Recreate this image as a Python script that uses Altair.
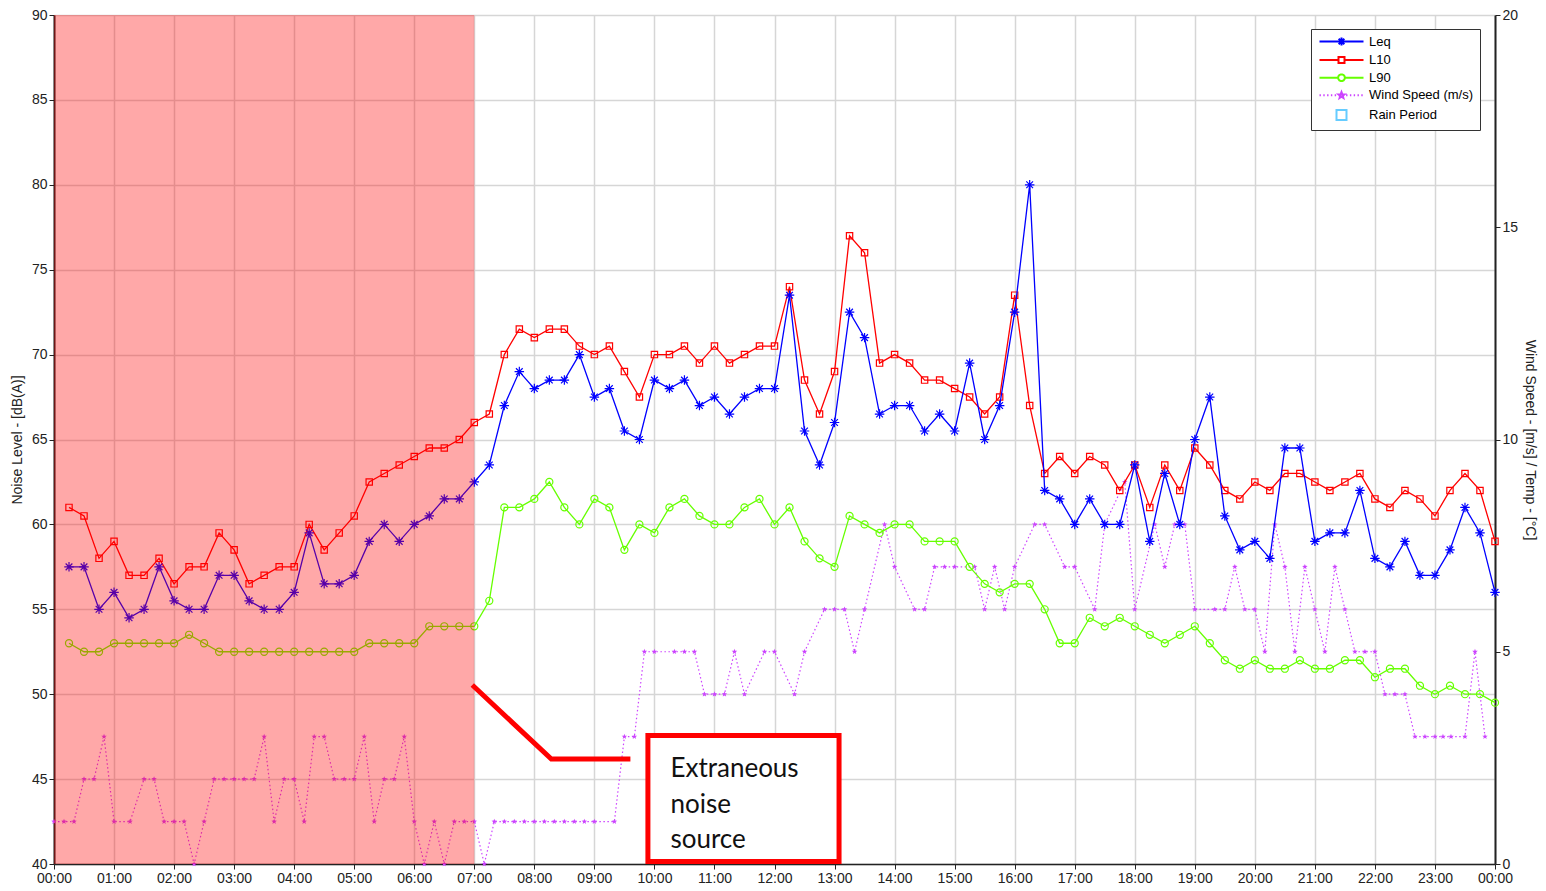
import math
import altair as alt
import pandas as pd

# ---------------- data ----------------
slot_minutes = list(range(15, 1441, 15))  # 15-minute slots 00:15 .. 24:00

leq = [57.5, 57.5, 55, 56, 54.5, 55, 57.5, 55.5, 55, 55, 57, 57, 55.5, 55, 55, 56,
       59.5, 56.5, 56.5, 57, 59, 60, 59, 60, 60.5, 61.5, 61.5, 62.5, 63.5, 67, 69, 68,
       68.5, 68.5, 70, 67.5, 68, 65.5, 65, 68.5, 68, 68.5, 67, 67.5, 66.5, 67.5, 68, 68,
       73.5, 65.5, 63.5, 66, 72.5, 71, 66.5, 67, 67, 65.5, 66.5, 65.5, 69.5, 65, 67, 72.5,
       80, 62, 61.5, 60, 61.5, 60, 60, 63.5, 59, 63, 60, 65, 67.5, 60.5, 58.5, 59,
       58, 64.5, 64.5, 59, 59.5, 59.5, 62, 58, 57.5, 59, 57, 57, 58.5, 61, 59.5, 56]

l10 = [61, 60.5, 58, 59, 57, 57, 58, 56.5, 57.5, 57.5, 59.5, 58.5, 56.5, 57, 57.5, 57.5,
       60, 58.5, 59.5, 60.5, 62.5, 63, 63.5, 64, 64.5, 64.5, 65, 66, 66.5, 70, 71.5, 71,
       71.5, 71.5, 70.5, 70, 70.5, 69, 67.5, 70, 70, 70.5, 69.5, 70.5, 69.5, 70, 70.5, 70.5,
       74, 68.5, 66.5, 69, 77, 76, 69.5, 70, 69.5, 68.5, 68.5, 68, 67.5, 66.5, 67.5, 73.5,
       67, 63, 64, 63, 64, 63.5, 62, 63.5, 61, 63.5, 62, 64.5, 63.5, 62, 61.5, 62.5,
       62, 63, 63, 62.5, 62, 62.5, 63, 61.5, 61, 62, 61.5, 60.5, 62, 63, 62, 59]

l90 = [53, 52.5, 52.5, 53, 53, 53, 53, 53, 53.5, 53, 52.5, 52.5, 52.5, 52.5, 52.5, 52.5,
       52.5, 52.5, 52.5, 52.5, 53, 53, 53, 53, 54, 54, 54, 54, 55.5, 61, 61, 61.5,
       62.5, 61, 60, 61.5, 61, 58.5, 60, 59.5, 61, 61.5, 60.5, 60, 60, 61, 61.5, 60,
       61, 59, 58, 57.5, 60.5, 60, 59.5, 60, 60, 59, 59, 59, 57.5, 56.5, 56, 56.5,
       56.5, 55, 53, 53, 54.5, 54, 54.5, 54, 53.5, 53, 53.5, 54, 53, 52, 51.5, 52,
       51.5, 51.5, 52, 51.5, 51.5, 52, 52, 51, 51.5, 51.5, 50.5, 50, 50.5, 50, 50, 49.5]

wind_times = ["00:00", "00:10", "00:20", "00:30", "00:40", "00:50", "01:00", "01:16", "01:30", "01:40",
              "01:50", "02:00", "02:10", "02:20", "02:30", "02:40", "02:50", "03:00", "03:10", "03:20",
              "03:30", "03:40", "03:50", "04:00", "04:10", "04:20", "04:30", "04:40", "04:50", "05:00",
              "05:10", "05:20", "05:30", "05:40", "05:50", "06:00", "06:10", "06:20", "06:30", "06:40",
              "06:50", "07:00", "07:10", "07:20", "07:30", "07:40", "07:50", "08:00", "08:10", "08:20",
              "08:30", "08:40", "08:50", "09:00", "09:20", "09:30", "09:40", "09:50", "10:00", "10:20",
              "10:30", "10:40", "10:50", "11:00", "11:10", "11:20", "11:30", "11:50", "12:00", "12:20",
              "12:30", "12:50", "13:00", "13:10", "13:20", "13:30", "13:50", "14:00", "14:20", "14:30",
              "14:40", "14:50", "15:00", "15:20", "15:30", "15:40", "15:50", "16:00", "16:20", "16:30",
              "16:50", "17:00", "17:20", "17:30", "17:50", "18:00", "18:20", "18:30", "18:40", "18:50",
              "19:00", "19:20", "19:30", "19:40", "19:50", "20:00", "20:10", "20:20", "20:30", "20:40",
              "20:50", "21:00", "21:10", "21:20", "21:30", "21:40", "21:50", "22:00", "22:10", "22:20",
              "22:30", "22:40", "22:50", "23:00", "23:08", "23:16", "23:30", "23:40", "23:50"]
wind_speed = [1, 1, 1, 2, 2, 3, 1, 1, 2, 2,
              1, 1, 1, 0, 1, 2, 2, 2, 2, 2,
              3, 1, 2, 2, 1, 3, 3, 2, 2, 2,
              3, 1, 2, 2, 3, 1, 0, 1, 0, 1,
              1, 1, 0, 1, 1, 1, 1, 1, 1, 1,
              1, 1, 1, 1, 1, 3, 3, 5, 5, 5,
              5, 5, 4, 4, 4, 5, 4, 5, 5, 4,
              5, 6, 6, 6, 5, 6, 8, 7, 6, 6,
              7, 7, 7, 7, 6, 7, 6, 7, 8, 8,
              7, 7, 6, 8, 9, 6, 8, 7, 8, 8,
              6, 6, 6, 7, 6, 6, 5, 8, 7, 5,
              7, 6, 5, 7, 6, 5, 5, 5, 4, 4,
              4, 3, 3, 3, 3, 3, 3, 5, 3]

series_names = ["Leq", "L10", "L90", "Wind Speed (m/s)", "Rain Period"]
series_colors = ["#0000ff", "#ff0000", "#66ff00", "#cc44ff", "#66ccff"]

night_period = [0, 420]                 # minutes: 00:00 - 07:00
callout_t = [418, 497, 576]
callout_db = [50.54, 46.18, 46.18]
box_t = [593.5, 784.5]
box_db = [40.15, 47.57]
note_text = "Extraneous\nnoise\nsource"
note_t, note_db = 616, 45.1

# ---------------- shapes (styling) ----------------
def pts_path(pts):
    return "M" + "L".join(f"{x:.3f},{y:.3f}" for x, y in pts) + "Z"

def star(r, ri):
    pts = []
    for k in range(10):
        a = -math.pi / 2 + k * math.pi / 5
        rr = r if k % 2 == 0 else ri
        pts.append((rr * math.cos(a), rr * math.sin(a)))
    return pts_path(pts)

def poly(r, n):
    return pts_path([(r * math.cos(2 * math.pi * k / n), r * math.sin(2 * math.pi * k / n)) for k in range(n)])

def asterisk(r):
    d = r * 0.707
    return (f"M0,{-r}L0,{r}M{-r},0L{r},0M{-d:.3f},{-d:.3f}L{d:.3f},{d:.3f}"
            f"M{-d:.3f},{d:.3f}L{d:.3f},{-d:.3f}")

ASTER = asterisk(1)
STAR = star(1, 0.42)

# legend symbols: unit = 4px (symbolSize 64), line runs +-22px = +-5.5 units
L = 5.5
leg_leq = f"M{-L},0L{L},0" + asterisk(1.0)
leg_l10 = f"M{-L},0L-0.75,0M0.75,0L{L},0M-0.75,-0.75L0.75,-0.75L0.75,0.75L-0.75,0.75Z"
leg_l90 = f"M{-L},0L-0.85,0M0.85,0L{L},0" + poly(0.85, 14)
leg_wind = "".join(f"M{-L + k * 0.95:.3f},0L{-L + k * 0.95 + 0.35:.3f},0" for k in range(12)) + star(0.8, 0.34)
leg_rain = "M-1.25,-1.25L1.25,-1.25L1.25,1.25L-1.25,1.25Z"
legend_shapes = [leg_leq, leg_l10, leg_l90, leg_wind, leg_rain]

# ---------------- frames ----------------
noise_df = pd.DataFrame({"t": slot_minutes, "Leq": leq, "L10": l10, "L90": l90})
wind_df = pd.DataFrame({"t": [int(s[:2]) * 60 + int(s[3:]) for s in wind_times], "w": wind_speed})
legend_df = pd.DataFrame({"series": series_names, "t": [0] * 5, "v": [0] * 5})
night_df = pd.DataFrame({"t1": [night_period[0]], "t2": [night_period[1]]})
callout_df = pd.DataFrame({"t": callout_t, "v": callout_db})
box_df = pd.DataFrame({"t1": [box_t[0]], "t2": [box_t[1]], "v1": [box_db[0]], "v2": [box_db[1]]})
note_df = pd.DataFrame({"t": [note_t], "v": [note_db], "label": [note_text]})

FONT = "Liberation Sans"
label_expr = "(floor(datum.value/60)%24 < 10 ? '0' : '') + (floor(datum.value/60)%24) + ':00'"

x_scale = alt.Scale(domain=[0, 1440], nice=False, zero=False)
x_axis = alt.Axis(values=list(range(0, 1441, 60)), labelExpr=label_expr, title=None,
                  grid=True, gridColor="#d6d6d6", gridWidth=1.5, tickColor="#222",
                  tickSize=5, domainColor="#222", domainWidth=1.5, labelFont=FONT,
                  labelFontSize=14, labelColor="#222", labelPadding=2, labelFlush=False)
X = lambda f="t": alt.X(f"{f}:Q", scale=x_scale, axis=x_axis)

db_scale = alt.Scale(domain=[40, 90], nice=False, zero=False)
db_axis = alt.Axis(orient="left", values=list(range(40, 91, 5)), title="Noise Level - [dB(A)]",
                   grid=True, gridColor="#d6d6d6", gridWidth=1.5, tickColor="#222", tickSize=5,
                   domainColor="#222", domainWidth=2, labelFont=FONT, labelFontSize=14,
                   labelColor="#222", labelPadding=2, titleFont=FONT, titleFontSize=14,
                   titleFontWeight="normal", titleColor="#222", titlePadding=7)
Y = lambda f="v": alt.Y(f"{f}:Q", scale=db_scale, axis=db_axis)

wind_scale = alt.Scale(domain=[0, 20], nice=False, zero=True)
wind_axis = alt.Axis(orient="right", values=[0, 5, 10, 15, 20], title="Wind Speed - [m/s] / Temp - [°C]",
                     grid=False, tickColor="#222", tickSize=5, domainColor="#222", domainWidth=2,
                     labelFont=FONT, labelFontSize=14, labelColor="#222", labelPadding=2,
                     titleFont=FONT, titleFontSize=14, titleFontWeight="normal",
                     titleColor="#222", titlePadding=5)

# ---------------- wind layers ----------------
wind_base = alt.Chart(wind_df).encode(x=X(), y=alt.Y("w:Q", scale=wind_scale, axis=wind_axis))
wind_line = wind_base.mark_line(color="#cc44ff", strokeWidth=1.2, strokeDash=[1.5, 2.5])
wind_pts = wind_base.mark_point(shape=STAR, size=34, filled=True, color="#cc44ff", opacity=1, strokeWidth=0)
wind_group = alt.layer(wind_line, wind_pts)

# ---------------- noise layers ----------------
def series_layers(col, color, shape, size):
    base = alt.Chart(noise_df).encode(x=X(), y=alt.Y(f"{col}:Q", scale=db_scale, axis=db_axis))
    return [base.mark_line(color=color, strokeWidth=1.3),
            base.mark_point(shape=shape, size=size, filled=False, color=color, strokeWidth=1.2, opacity=1)]

layers = []
layers += series_layers("L90", "#66ff00", "circle", 50)
layers += series_layers("L10", "#ff0000", "square", 40)
layers += series_layers("Leq", "#0000ff", ASTER, 90)

legend_layer = alt.Chart(legend_df).mark_point(filled=False, size=64, strokeWidth=2, clip=True, opacity=1).encode(
    x=X(), y=Y(),
    color=alt.Color("series:N", scale=alt.Scale(domain=series_names, range=series_colors),
                    legend=alt.Legend(title=None, orient="none", legendX=1257, legendY=14, padding=6,
                                      strokeColor="#333", fillColor="white", labelFont=FONT,
                                      labelFontSize=13, labelColor="black", symbolStrokeWidth=2,
                                      symbolSize=64, rowPadding=2.6, labelOffset=21, symbolOffset=18,
                                      labelLimit=0)),
    shape=alt.Shape("series:N", scale=alt.Scale(domain=series_names, range=legend_shapes)),
)

night = alt.Chart(night_df).mark_rect(color="#ff0000", opacity=0.34).encode(x=X("t1"), x2="t2")

box = alt.Chart(box_df).mark_rect(fill="white", stroke="#ff0000", strokeWidth=5, strokeJoin="miter").encode(
    x=X("t1"), x2="t2", y=Y("v1"), y2="v2")
callout = alt.Chart(callout_df).mark_line(color="#ff0000", strokeWidth=5, strokeJoin="miter", strokeCap="butt").encode(
    x=X(), y=Y(), order="t:Q")
note = alt.Chart(note_df).mark_text(font="Lato", fontSize=26, color="#111", align="left",
                                    baseline="alphabetic", lineBreak="\n", lineHeight=35.5).encode(
    x=X(), y=Y(), text="label:N")

noise_group = alt.layer(*layers, legend_layer, night, box, callout, note)

chart = alt.layer(wind_group, noise_group).resolve_scale(y="independent").properties(
    width=1441, height=849,
    padding={"left": 46, "top": 7, "right": 43, "bottom": 22},
    autosize=alt.AutoSizeParams(type="none"),
).configure_view(stroke="#222", strokeWidth=1.5).configure(background="white")

chart.save("out.html", embed_options={"renderer": "svg", "actions": False})
